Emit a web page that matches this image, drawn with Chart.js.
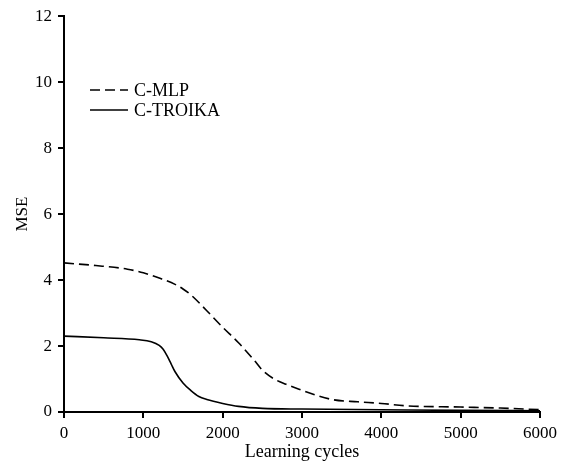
<!DOCTYPE html>
<html>
<head>
<meta charset="utf-8">
<script src="https://cdn.jsdelivr.net/npm/chart.js@4.4.0/dist/chart.umd.min.js"></script>
<style>
  body{margin:0;background:#fff;}
  #wrap{width:563px;height:466px;}
</style>
</head>
<body>
<div id="wrap"><canvas id="myChart" width="563" height="466"></canvas></div>
<script>
// data (learning cycles, MSE)
const seriesNames=["C-MLP","C-TROIKA"];
const mlpCycles=[0,400,800,1000,1200,1400,1500,1600,1800,2000,2200,2400,2500,2650,2800,3000,3200,3400,3700,4000,4300,5000,5500,6000];
const mlpMse=[4.52,4.44,4.33,4.22,4.06,3.87,3.73,3.55,3.07,2.57,2.1,1.56,1.27,1.0,0.84,0.66,0.49,0.37,0.31,0.26,0.19,0.15,0.12,0.07];
const troikaCycles=[0,500,950,1100,1200,1250,1300,1350,1400,1500,1600,1700,1800,2000,2200,2500,3000,4000,5000,6000];
const troikaMse=[2.3,2.25,2.19,2.13,2.02,1.9,1.7,1.46,1.22,0.88,0.65,0.47,0.38,0.26,0.17,0.11,0.09,0.07,0.05,0.04];
const xTicks=[0,1000,2000,3000,4000,5000,6000];
const yTicks=[0,2,4,6,8,10,12];

function toPoints(xs,ys){
    var pts=[]
    for(let i=0;i<xs.length;i++) pts.push({x:xs[i],y:ys[i]})
    return pts
}

const serif="'Liberation Serif','Times New Roman',serif";

// legend drawn inside the plot area, like the original
const innerLegend={
    id:"innerLegend",
    afterDraw(chart){
        const ctx=chart.ctx;
        ctx.save();
        chart.data.datasets.forEach((ds,i)=>{
            let y=90+i*20;
            ctx.beginPath();
            ctx.setLineDash(ds.borderDash||[]);
            ctx.lineWidth=ds.borderWidth;
            ctx.strokeStyle=ds.borderColor;
            ctx.moveTo(90,y);
            ctx.lineTo(128,y);
            ctx.stroke();
            ctx.setLineDash([]);
            ctx.fillStyle="#000";
            ctx.font="18px "+serif;
            ctx.textBaseline="middle";
            ctx.fillText(ds.label,134,y+1);
        });
        ctx.restore();
    }
};

new Chart(document.getElementById("myChart"),{
    type:"line",
    data:{
        datasets:[{
            label:seriesNames[0],
            data:toPoints(mlpCycles,mlpMse),
            borderColor:"#000",
            borderWidth:1.6,
            borderDash:[10,5],
            pointRadius:0,
            cubicInterpolationMode:"monotone",
            fill:false
        },{
            label:seriesNames[1],
            data:toPoints(troikaCycles,troikaMse),
            borderColor:"#000",
            borderWidth:1.6,
            pointRadius:0,
            cubicInterpolationMode:"monotone",
            fill:false
        }]
    },
    options:{
        responsive:false,
        animation:false,
        layout:{padding:{top:15,right:23,left:0,bottom:0}},
        plugins:{legend:{display:false},tooltip:{enabled:false}},
        scales:{
            x:{
                type:"linear",
                min:0,max:6000,
                afterBuildTicks:(s)=>{s.ticks=xTicks.map(v=>({value:v}))},
                afterFit:(s)=>{s.height=54},
                grid:{drawOnChartArea:false,drawTicks:true,tickLength:6,color:"#000",lineWidth:2},
                border:{display:true,color:"#000",width:2},
                ticks:{color:"#000",font:{family:serif,size:17},padding:5,maxRotation:0,callback:(v)=>String(v)},
                title:{display:true,text:"Learning cycles",color:"#000",font:{family:serif,size:18},padding:{top:0,bottom:3}}
            },
            y:{
                min:0,max:12,
                afterBuildTicks:(s)=>{s.ticks=yTicks.map(v=>({value:v}))},
                afterFit:(s)=>{s.width=64},
                grid:{drawOnChartArea:false,drawTicks:true,tickLength:6,color:"#000",lineWidth:2},
                border:{display:true,color:"#000",width:2},
                ticks:{color:"#000",font:{family:serif,size:17},padding:6,callback:(v)=>String(v)},
                title:{display:true,text:"MSE",color:"#000",font:{family:serif,size:17},padding:{top:12,bottom:0}}
            }
        }
    },
    plugins:[innerLegend]
});
</script>
</body>
</html>
